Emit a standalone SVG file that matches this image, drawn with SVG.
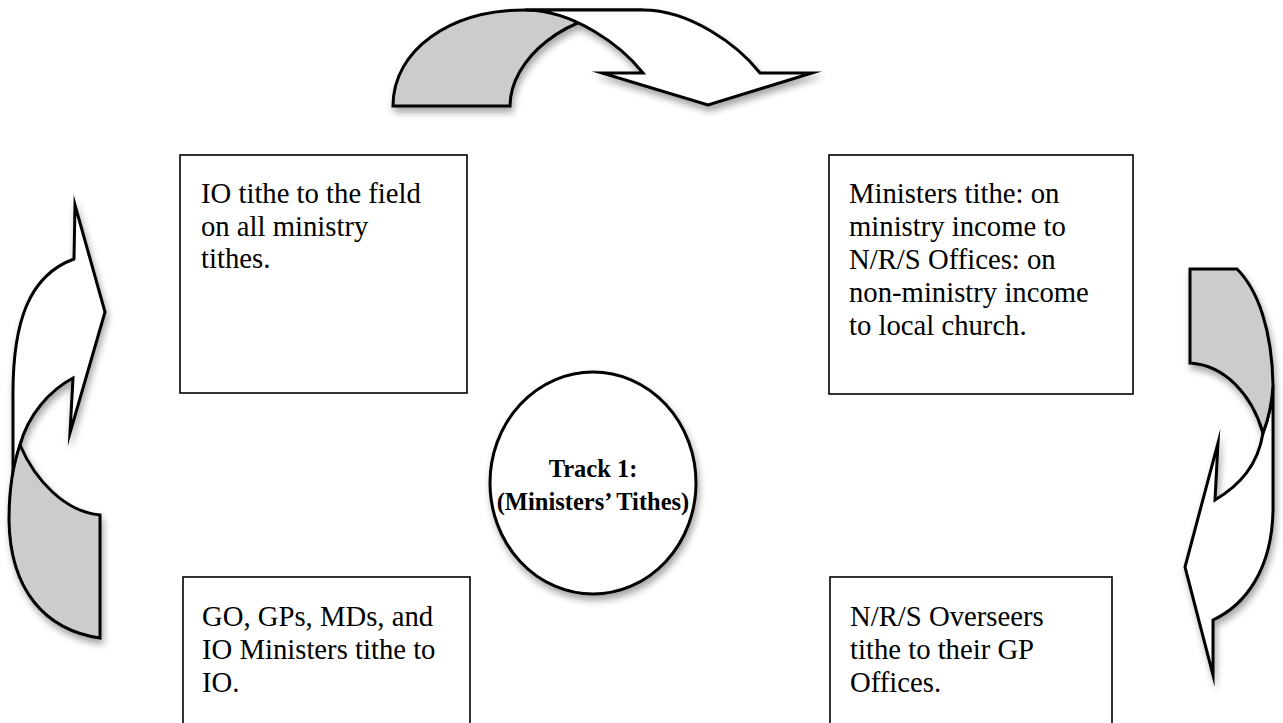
<svg xmlns="http://www.w3.org/2000/svg" width="1283" height="723" viewBox="0 0 1283 723">
  <defs>
    <filter id="shadow" x="-20%" y="-20%" width="150%" height="150%">
      <feDropShadow dx="2" dy="5" stdDeviation="3.5" flood-color="#000" flood-opacity="0.35"/>
    </filter>
  </defs>
  <style>
    .box { fill: #fff; stroke: #000; stroke-width: 1.6; }
    .txt { font-family: "Liberation Serif", "Times New Roman", serif; font-size: 28.7px; fill: #000; }
    .ctr { font-family: "Liberation Serif", "Times New Roman", serif; font-size: 24.5px; font-weight: bold; fill: #000; text-anchor: middle; }
    .band { stroke: #000; stroke-width: 3; stroke-linejoin: miter; stroke-miterlimit: 10; }
    .front { fill: #fff; }
    .back { fill: #cccccc; }
  </style>
  <rect width="1283" height="723" fill="#fff"/>

  <g id="connectors">
    <g id="arrow-top" filter="url(#shadow)">
      <path class="band back" d="M 393,106 C 393,50 450,10 525,10 L 643,10 C 565,10 510,60 510,106 Z"/>
      <path class="band front" d="M 525,10 L 643,10 C 690,10 738,45 760,73 L 812,73 L 708,105 L 602,73 L 643,73 C 621,45 573,10 525,10 Z"/>
    </g>
    <g id="arrow-left" filter="url(#shadow)">
      <path class="band front" d="M 13,505 L 13,400 C 12,320 30,275 74,259 L 75,205 L 105,312 L 70,433 L 73,378 C 50,390 28,415 20,445 C 15,460 13,480 13,505 Z"/>
      <path class="band back" d="M 20,445 C 35,480 65,512 100,515 L 100,638 C 45,630 10,590 9,520 C 9,490 13,465 20,445 Z"/>
    </g>
    <g id="arrow-right" filter="url(#shadow)">
      <path class="band front" d="M 1273,385 L 1273,510 C 1272,570 1245,605 1213,620 L 1213,675 L 1185,567 L 1218,443 L 1215,500 C 1240,485 1258,465 1263,433 C 1268,420 1272,405 1273,385 Z"/>
      <path class="band back" d="M 1190,269 L 1237,269 C 1258,290 1272,330 1273,385 C 1272,405 1268,420 1263,433 C 1252,395 1225,365 1190,363 Z"/>
    </g>
  </g>

  <g id="node-io-field">
    <rect class="box" x="180" y="155" width="287" height="238"/>
    <text class="txt" x="201" y="203">IO tithe to the field</text>
    <text class="txt" x="201" y="236">on all ministry</text>
    <text class="txt" x="201" y="268">tithes.</text>
  </g>

  <g id="node-ministers">
    <rect class="box" x="829" y="155" width="304" height="239"/>
    <text class="txt" x="849" y="203">Ministers tithe: on</text>
    <text class="txt" x="849" y="236">ministry income to</text>
    <text class="txt" x="849" y="269">N/R/S Offices: on</text>
    <text class="txt" x="849" y="302">non-ministry income</text>
    <text class="txt" x="849" y="335">to local church.</text>
  </g>

  <g id="node-go">
    <rect class="box" x="183" y="577" width="287" height="160"/>
    <text class="txt" x="202" y="626">GO, GPs, MDs, and</text>
    <text class="txt" x="202" y="659">IO Ministers tithe to</text>
    <text class="txt" x="202" y="692">IO.</text>
  </g>

  <g id="node-overseers">
    <rect class="box" x="830" y="577" width="282" height="160"/>
    <text class="txt" x="850" y="626">N/R/S Overseers</text>
    <text class="txt" x="850" y="659">tithe to their GP</text>
    <text class="txt" x="850" y="692">Offices.</text>
  </g>

  <g id="node-track">
    <ellipse cx="593" cy="483" rx="103" ry="111" fill="#fff" stroke="#000" stroke-width="3" filter="url(#shadow)"/>
    <text class="ctr" x="593" y="477">Track 1:</text>
    <text class="ctr" x="593" y="510">(Ministers’ Tithes)</text>
  </g>
</svg>
